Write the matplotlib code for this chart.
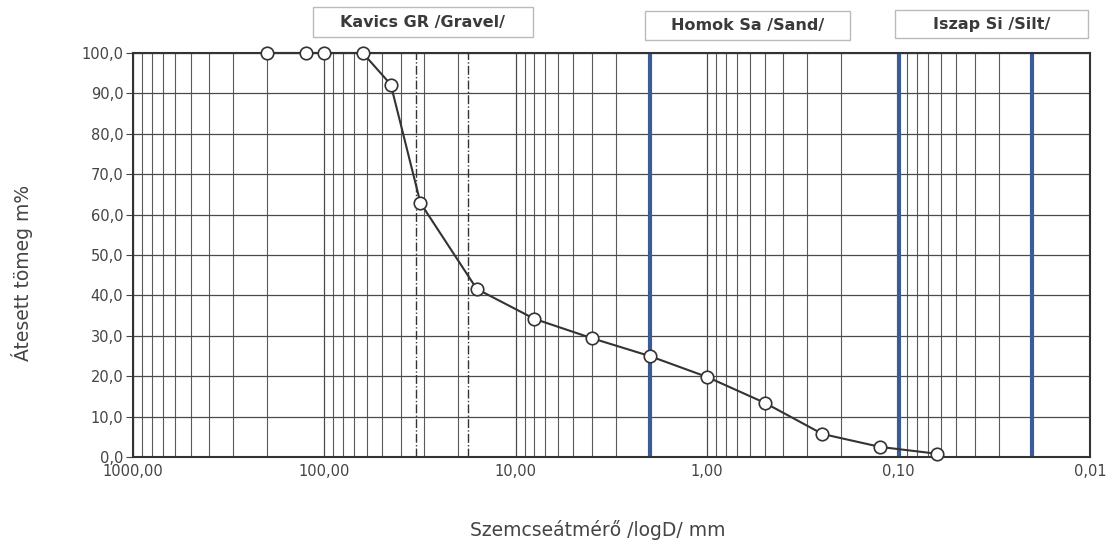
import matplotlib
matplotlib.use("Agg")
from matplotlib import pyplot as plt
from matplotlib.ticker import FixedLocator, FuncFormatter, LogLocator, NullFormatter
import matplotlib.patches as patches

plt.rcParams['font.family'] = ['DejaVu Sans']

# szemcseméret (mm) es atesett tomeg (%)
atmero = [200, 125, 100, 63, 45, 31.5, 16, 8, 4, 2, 1, 0.5, 0.25, 0.125, 0.063]
atesett = [100.0, 100.0, 100.0, 100.0, 92.2, 62.9, 41.6, 34.2, 29.4, 25.0, 19.8, 13.4, 5.7, 2.5, 0.8]

# hatarok
fo_hatarok = [2, 0.1, 0.02]
szaggatott = [33.2, 17.8]

x_tickek = [1000, 100, 10, 1, 0.1, 0.01]
y_tickek = [0, 10, 20, 30, 40, 50, 60, 70, 80, 90, 100]

fejlecek = [
    ("Kavics GR /Gravel/", 313, 533, 7, 37),
    ("Homok Sa /Sand/", 645, 850, 11, 40),
    ("Iszap Si /Silt/", 895, 1088, 10, 38),
]

W, H = 1108, 542
fig = plt.figure(figsize=(W / 100, H / 100), dpi=100)
ax = fig.add_axes([133 / W, 1 - 457 / H, (1090 - 133) / W, (457 - 53) / H])

ax.set_xscale("log")
ax.set_xlim(1000, 0.01)
ax.set_ylim(0, 100)

ax.xaxis.set_major_locator(FixedLocator(x_tickek))
ax.xaxis.set_minor_locator(LogLocator(base=10, subs=range(2, 10)))
ax.xaxis.set_minor_formatter(NullFormatter())
ax.xaxis.set_major_formatter(FuncFormatter(lambda v, p: f"{v:.2f}".replace(".", ",")))
ax.yaxis.set_major_locator(FixedLocator(y_tickek))
ax.yaxis.set_major_formatter(FuncFormatter(lambda v, p: f"{v:.1f}".replace(".", ",")))

ax.grid(which="major", axis="both", color="#4a4a4a", linewidth=0.9)
ax.grid(which="minor", axis="x", color="#5a5a5a", linewidth=0.8)
ax.set_axisbelow(True)

ax.tick_params(axis="x", which="both", length=0, labelsize=10.5, labelcolor="#444444", pad=5)
ax.tick_params(axis="y", length=5, direction="out", labelsize=10.5, color="#444444",
               labelcolor="#444444", pad=2)

for s in ax.spines.values():
    s.set_color("#333333")
    s.set_linewidth(1.5)

for h in fo_hatarok:
    ax.axvline(h, color="#3b5b96", linewidth=3, zorder=2)
for h in szaggatott:
    ax.axvline(h, color="#333333", linewidth=1, linestyle="-.", zorder=2)

ax.plot(atmero, atesett, color="#333333", linewidth=1.5, marker="o", markersize=9,
        markerfacecolor="white", markeredgecolor="#333333", markeredgewidth=1.2,
        zorder=5, clip_on=False)

# fejlec dobozok
for szoveg, x0, x1, y0, y1 in fejlecek:
    r = patches.Rectangle((x0 / W, 1 - y1 / H), (x1 - x0) / W, (y1 - y0) / H,
                          transform=fig.transFigure, fill=False,
                          edgecolor="#bbbbbb", linewidth=1)
    fig.add_artist(r)
    fig.text((x0 + x1) / 2 / W, 1 - (y0 + y1) / 2 / H, szoveg, ha="center", va="center",
             fontsize=11.5, fontweight="bold", color="#3a3a3a")

fig.text(598 / W, 1 - 530 / H, "Szemcseátmérő /logD/ mm", ha="center", va="center",
         fontsize=13.5, color="#444444")
fig.text(22 / W, 1 - 273 / H, "Átesett tömeg m%", ha="center", va="center",
         rotation=90, fontsize=13.5, color="#444444")

fig.savefig("out.png", dpi=100, facecolor="white")
